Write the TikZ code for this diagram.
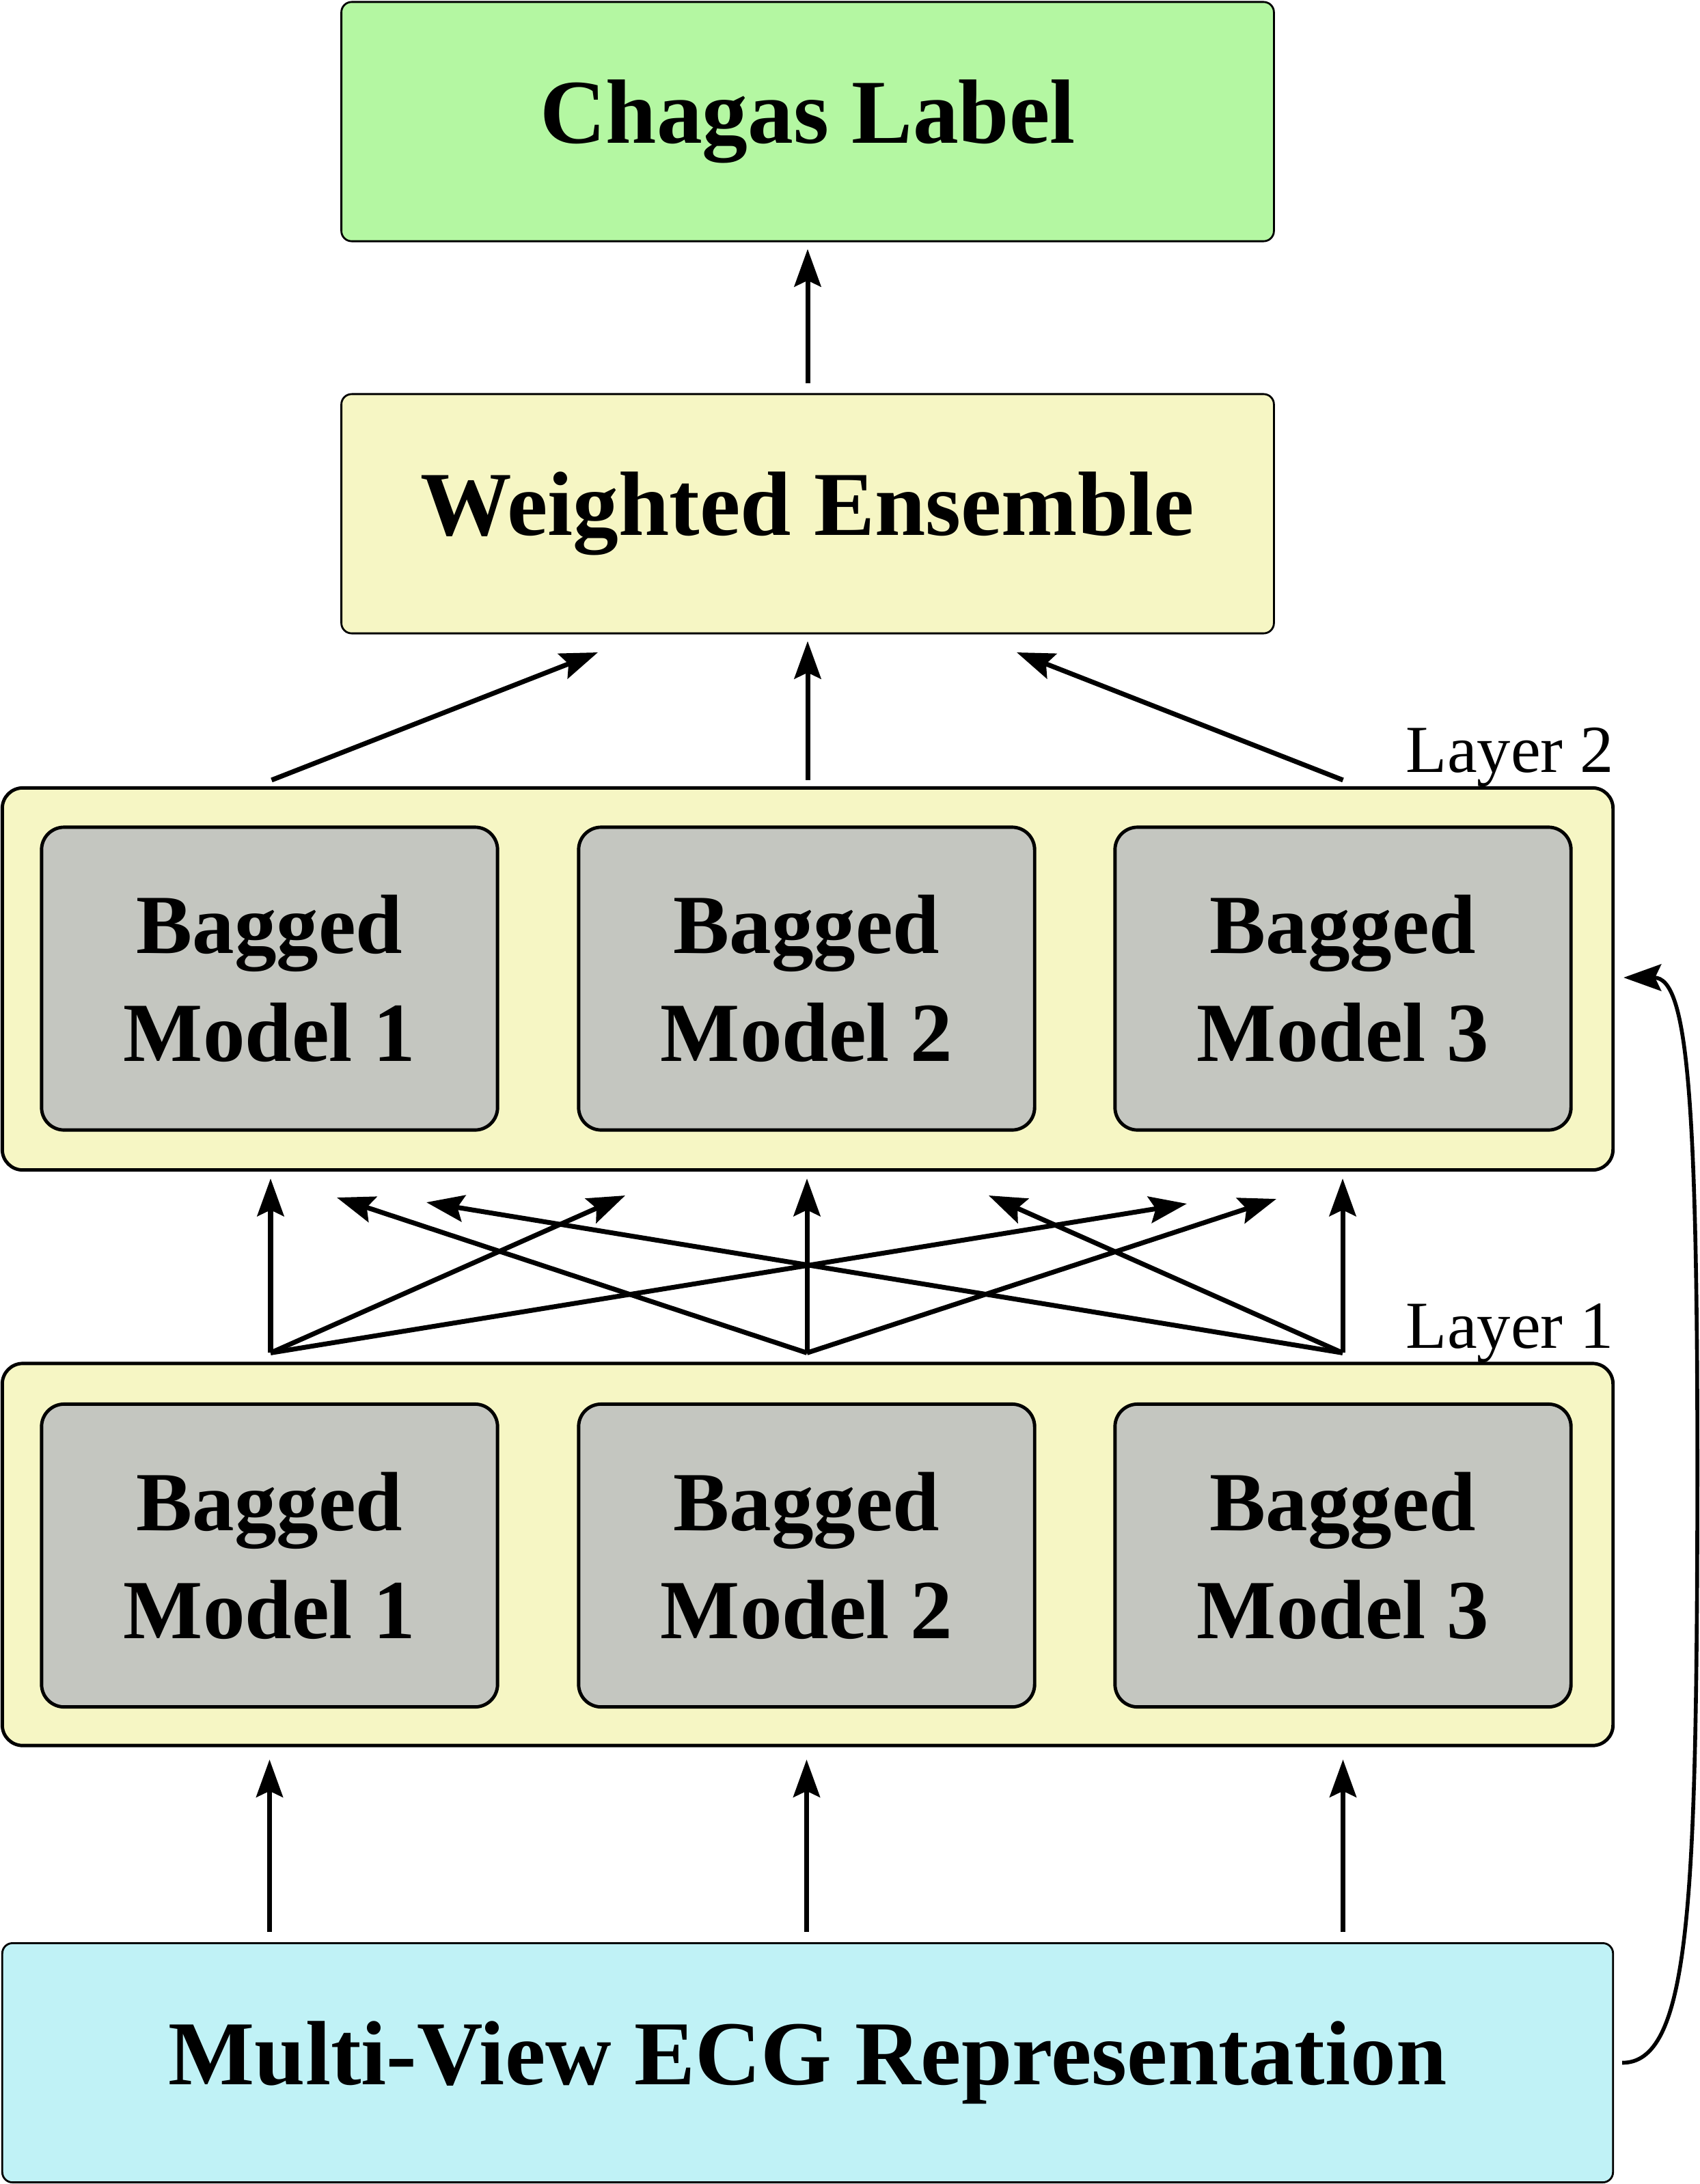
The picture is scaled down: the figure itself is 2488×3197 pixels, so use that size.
\documentclass[tikz,border=0pt]{standalone}
\usepackage{fontspec}
\setmainfont{Liberation Serif}
\usetikzlibrary{arrows.meta,calc}
\definecolor{cgreen}{RGB}{180,247,162}
\definecolor{cyellow}{RGB}{246,246,196}
\definecolor{cgray}{RGB}{196,198,192}
\definecolor{ccyan}{RGB}{192,242,246}
\begin{document}
\begin{tikzpicture}[x=0.01cm,y=-0.01cm,
  box/.style={draw=black, line width=0.8pt, rounded corners=1.5mm, inner sep=0pt,
    minimum width=13.64cm, minimum height=3.5cm, align=center,
    font=\bfseries\fontsize{38}{51.5}\selectfont},
  layerbox/.style={draw=black, line width=1.4pt, rounded corners=3mm, fill=cyellow,
    inner sep=0pt, minimum width=23.56cm, minimum height=5.59cm},
  bag/.style={draw=black, line width=1.4pt, rounded corners=3.3mm, fill=cgray,
    inner sep=0pt, minimum width=6.67cm, minimum height=4.43cm, align=center,
    font=\bfseries\fontsize{35}{45}\selectfont},
  arr/.style={-{Stealth[length=5.5mm,width=3.9mm,inset=0.9mm]}, line width=2pt},
  lab/.style={anchor=base east, inner sep=0pt, font=\fontsize{28}{34}\selectfont}]
\useasboundingbox (0,0) rectangle (2488,3197);

% boxes
\node[box, fill=cgreen] (chagas) at (1182,178) {Chagas Label};
\node[box, fill=cyellow] (ens) at (1182,752) {Weighted Ensemble};
\node[layerbox] (l2) at (1182,1433) {};
\node[bag] (b1) at (394.5,1432.5) {Bagged\\Model 1};
\node[bag] (b2) at (1180.5,1432.5) {Bagged\\Model 2};
\node[bag] (b3) at (1965.5,1432.5) {Bagged\\Model 3};
\node[layerbox] (l1) at (1182,2275.5) {};
\node[bag] (a1) at (394.5,2277) {Bagged\\Model 1};
\node[bag] (a2) at (1180.5,2277) {Bagged\\Model 2};
\node[bag] (a3) at (1965.5,2277) {Bagged\\Model 3};
\node[box, fill=ccyan, minimum width=23.56cm] (mv) at (1182,3019.5) {Multi-View ECG Representation};

\node[lab] (lab2) at (2362,1130) {Layer 2};
\node[lab] (lab1) at (2362,1973) {Layer 1};

% Chagas arrow
\draw[arr, shorten <=1.4mm, shorten >=1mm] (ens.north) -- (chagas.south);

% Layer 2 -> ensemble
\coordinate (u1) at ($(l2.north -| b1)+(3,-9)$);
\coordinate (u3) at ($(l2.north -| b3)+(0,-9)$);
\coordinate (e1) at (875,955);
\coordinate (e3) at (1488,955);
\draw[arr] (u1) -- (e1);
\draw[arr, shorten <=0.9mm, shorten >=1mm] (l2.north) -- (ens.south);
\draw[arr] (u3) -- (e3);

% Layer 1 -> Layer 2
\coordinate (s1) at ($(l1.north -| a1)+(1.5,-13)$);
\coordinate (s2) at ($(l1.north -| a2)+(0.5,-13)$);
\coordinate (s3) at ($(l1.north -| a3)+(-0.5,-13)$);
\coordinate (t11) at (915,1750);
\coordinate (t12) at (1737,1762);
\coordinate (t21) at (493,1753);
\coordinate (t22) at (1868,1755);
\coordinate (t31) at (624,1760);
\coordinate (t32) at (1447,1750);
\draw[arr, shorten >=1mm] (s1) -- (s1 |- l2.south);
\draw[arr, shorten >=1mm] (s2) -- (s2 |- l2.south);
\draw[arr, shorten >=1mm] (s3) -- (s3 |- l2.south);
\draw[arr] (s1) -- (t11);
\draw[arr] (s1) -- (t12);
\draw[arr] (s2) -- (t21);
\draw[arr] (s2) -- (t22);
\draw[arr] (s3) -- (t31);
\draw[arr] (s3) -- (t32);

% input -> Layer 1
\draw[arr, shorten <=1.5mm, shorten >=1.8mm] (mv.north -| a1) -- (l1.south -| a1);
\draw[arr, shorten <=1.5mm, shorten >=1.8mm] (mv.north -| a2) -- (l1.south -| a2);
\draw[arr, shorten <=1.5mm, shorten >=1.8mm] (mv.north -| a3) -- (l1.south -| a3);

% skip connection
\draw[arr, line width=1.6pt] ($(mv.east)+(12,0)$) .. controls (2470,3020) and (2482,2800) .. (2484,2250)
  .. controls (2486,1600) and (2470,1431) .. ($(l2.east)+(13,-2)$);
\end{tikzpicture}
\end{document}
